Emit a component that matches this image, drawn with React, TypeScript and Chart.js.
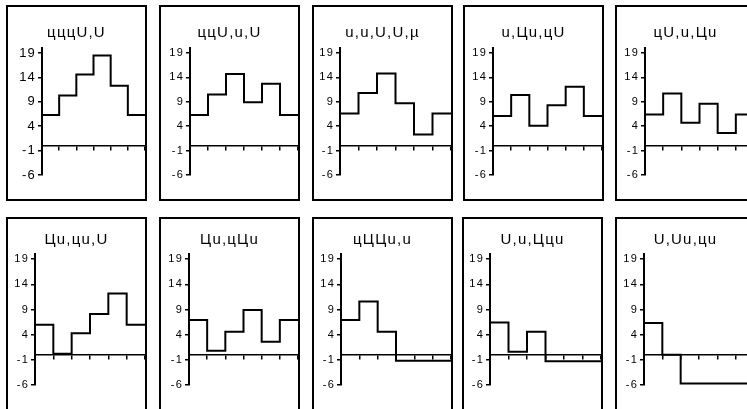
import { useEffect, useRef } from "react";
import { Chart, registerables } from "chart.js";

Chart.register(...registerables);

// ---- data ----
const panelTitles = [
  "цццU,U",
  "ццU,u,U",
  "u,u,U,U,µ",
  "u,Цu,цU",
  "цU,u,Цu",
  "Цu,цu,U",
  "Цu,цЦu",
  "цЦЦu,u",
  "U,u,Ццu",
  "U,Uu,цu",
];

const steps = [1, 2, 3, 4, 5, 6];

const series1 = [6.3, 10.3, 14.6, 18.5, 12.3, 6.3];
const series2 = [6.3, 10.5, 14.7, 8.9, 12.7, 6.3];
const series3 = [6.6, 10.8, 14.8, 8.7, 2.3, 6.6];
const series4 = [6.1, 10.4, 4.1, 8.3, 12.1, 6.1];
const series5 = [6.4, 10.7, 4.7, 8.6, 2.6, 6.4];
const series6 = [6.0, 0.2, 4.3, 8.1, 12.2, 6.0];
const series7 = [6.9, 0.8, 4.6, 8.9, 2.6, 6.9];
const series8 = [6.9, 10.6, 4.6, -1.2, -1.2, -1.2];
const series9 = [6.4, 0.6, 4.6, -1.3, -1.3, -1.3];
const series10 = [6.3, 0, -5.7, -5.7, -5.7, -5.7];

const yTickValues = [-6, -1, 4, 9, 14, 19];

const allSeries = [
  series1, series2, series3, series4, series5,
  series6, series7, series8, series9, series10,
];

// ---- layout ----
const PANEL_W = 141;
const PANEL_H = 196;
const BORDER = 2;
const rowTops = [5, 217];
const rowLefts = [
  [6, 159, 312, 463, 615],
  [6, 159, 312, 462, 615],
];
const axisWidths = [
  [34, 29, 26, 28, 28],
  [27, 28, 27, 26, 27],
];
const rowLayout = [
  { titleTop: 16.6, titleBottom: 6.6, padBottom: 24 },
  { titleTop: 11.6, titleBottom: 5.6, padBottom: 26 },
];
const FONT = "'Liberation Sans', Arial, sans-serif";

const spacingPlugin = {
  id: "letterSpacing",
  beforeUpdate(chart: any) {
    chart.ctx.letterSpacing = "1.2px";
  },
  beforeDraw(chart: any) {
    chart.ctx.letterSpacing = "1.2px";
  },
};

type PanelProps = {
  title: string;
  values: number[];
  left: number;
  top: number;
  axisW: number;
  row: number;
  tickSize: number;
};

function Panel({ title, values, left, top, axisW, row, tickSize }: PanelProps) {
  const ref = useRef<HTMLCanvasElement>(null);
  useEffect(() => {
    if (!ref.current) return;
    const pts = steps.map((s, i) => ({ x: s - 1, y: values[i] }));
    pts.push({ x: steps.length, y: values[values.length - 1] });
    const lay = rowLayout[row];
    const chart = new Chart(ref.current, {
      type: "line",
      data: {
        datasets: [
          {
            data: pts,
            stepped: true,
            borderColor: "#000",
            borderWidth: 2,
            pointRadius: 0,
            fill: false,
          },
        ],
      },
      options: {
        animation: false,
        responsive: false,
        events: [],
        layout: { padding: { left: 0, right: 0, top: 0, bottom: lay.padBottom } },
        plugins: {
          legend: { display: false },
          tooltip: { enabled: false },
          title: {
            display: true,
            text: title,
            color: "#000",
            font: { family: FONT, size: 15, weight: "normal" },
            padding: { top: lay.titleTop, bottom: lay.titleBottom },
          },
        },
        scales: {
          x: {
            type: "linear",
            min: 0,
            max: steps.length,
            position: { y: 0 } as any,
            ticks: { display: false, stepSize: 1 },
            grid: {
              drawOnChartArea: false,
              drawTicks: true,
              tickLength: 4,
              color: "#000",
              lineWidth: 1.5,
            },
            border: { color: "#000", width: 1.5 },
            afterFit: (s: any) => {
              s.height = 0;
            },
          },
          y: {
            type: "linear",
            min: -6,
            max: 20,
            position: "left",
            afterBuildTicks: (s: any) => {
              s.ticks = yTickValues.map((v) => ({ value: v }));
            },
            ticks: {
              color: "#000",
              font: { family: FONT, size: tickSize },
              padding: 2,
            },
            grid: {
              drawOnChartArea: false,
              tickLength: 4,
              color: "#000",
              lineWidth: 1.5,
            },
            border: { color: "#000", width: 2 },
            afterFit: (s: any) => {
              s.width = axisW;
            },
          },
        },
      } as any,
      plugins: [spacingPlugin],
    });
    return () => chart.destroy();
  }, [title, values, axisW, row, tickSize]);

  return (
    <div
      style={{
        position: "absolute",
        left,
        top,
        width: PANEL_W,
        height: PANEL_H,
        border: `${BORDER}px solid #000`,
        boxSizing: "border-box",
        background: "#fff",
      }}
    >
      <canvas
        ref={ref}
        width={PANEL_W - 2 * BORDER}
        height={PANEL_H - 2 * BORDER}
        style={{ display: "block" }}
      />
    </div>
  );
}

export default function App() {
  return (
    <div
      style={{
        position: "absolute",
        left: 0,
        top: 0,
        width: 747,
        height: 409,
        overflow: "hidden",
        background: "#fff",
      }}
    >
      {panelTitles.map((t, i) => {
        const row = Math.floor(i / 5);
        const col = i % 5;
        return (
          <Panel
            key={i}
            title={t}
            values={allSeries[i]}
            left={rowLefts[row][col]}
            top={rowTops[row]}
            axisW={axisWidths[row][col]}
            row={row}
            tickSize={i === 0 ? 13 : 11}
          />
        );
      })}
    </div>
  );
}
